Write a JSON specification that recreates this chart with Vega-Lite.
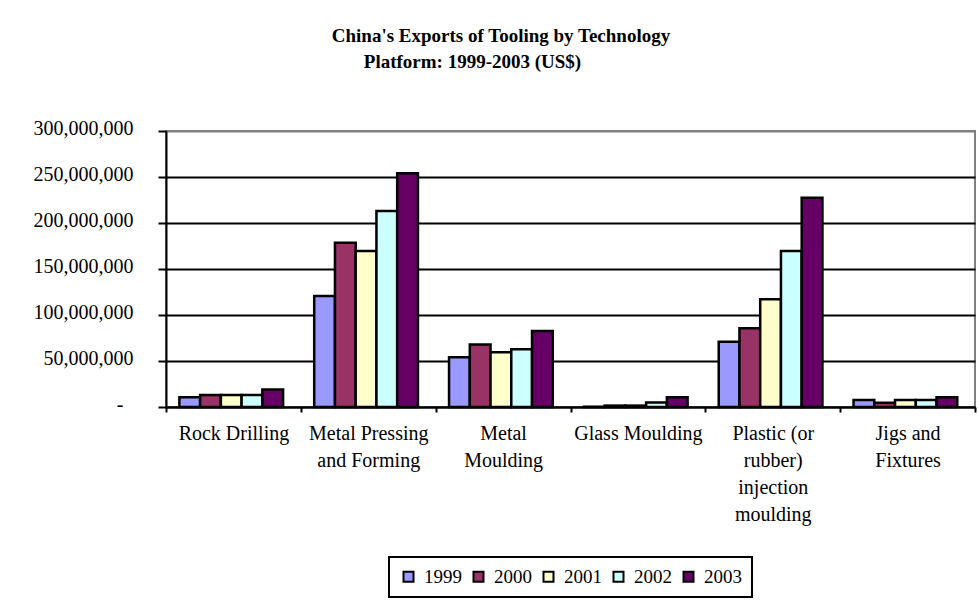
{
  "$schema": "https://vega.github.io/schema/vega-lite/v6.json",
  "autosize": "none",
  "width": 809,
  "height": 276,
  "padding": {"left": 166, "top": 131, "right": 3, "bottom": 193},
  "background": "white",
  "title": {
    "text": ["China's Exports of Tooling by Technology", "Platform: 1999-2003 (US$)\u00a0\u00a0\u00a0\u00a0\u00a0\u00a0\u00a0\u00a0\u00a0\u00a0\u00a0\u00a0\u200b"],
    "font": "Liberation Serif",
    "fontSize": 19,
    "fontWeight": "bold",
    "lineHeight": 26,
    "anchor": "middle",
    "dx": -69.5,
    "offset": 46,
    "color": "black"
  },
  "config": {
    "view": {"stroke": "#808080", "strokeWidth": 2},
    "font": "Liberation Serif"
  },
  "data": {
    "values": [
      {"category": "Rock Drilling", "year": "1999", "value": 10500000},
      {"category": "Rock Drilling", "year": "2000", "value": 13000000},
      {"category": "Rock Drilling", "year": "2001", "value": 13000000},
      {"category": "Rock Drilling", "year": "2002", "value": 13000000},
      {"category": "Rock Drilling", "year": "2003", "value": 19000000},
      {"category": "Metal Pressing and Forming", "year": "1999", "value": 120600000},
      {"category": "Metal Pressing and Forming", "year": "2000", "value": 178600000},
      {"category": "Metal Pressing and Forming", "year": "2001", "value": 169600000},
      {"category": "Metal Pressing and Forming", "year": "2002", "value": 213000000},
      {"category": "Metal Pressing and Forming", "year": "2003", "value": 254000000},
      {"category": "Metal Moulding", "year": "1999", "value": 54000000},
      {"category": "Metal Moulding", "year": "2000", "value": 68000000},
      {"category": "Metal Moulding", "year": "2001", "value": 59400000},
      {"category": "Metal Moulding", "year": "2002", "value": 62700000},
      {"category": "Metal Moulding", "year": "2003", "value": 82600000},
      {"category": "Glass Moulding", "year": "1999", "value": 300000},
      {"category": "Glass Moulding", "year": "2000", "value": 1500000},
      {"category": "Glass Moulding", "year": "2001", "value": 1500000},
      {"category": "Glass Moulding", "year": "2002", "value": 5000000},
      {"category": "Glass Moulding", "year": "2003", "value": 10500000},
      {"category": "Plastic (or rubber) injection moulding", "year": "1999", "value": 71000000},
      {"category": "Plastic (or rubber) injection moulding", "year": "2000", "value": 85500000},
      {"category": "Plastic (or rubber) injection moulding", "year": "2001", "value": 117000000},
      {"category": "Plastic (or rubber) injection moulding", "year": "2002", "value": 169600000},
      {"category": "Plastic (or rubber) injection moulding", "year": "2003", "value": 227500000},
      {"category": "Jigs and Fixtures", "year": "1999", "value": 7600000},
      {"category": "Jigs and Fixtures", "year": "2000", "value": 4700000},
      {"category": "Jigs and Fixtures", "year": "2001", "value": 7600000},
      {"category": "Jigs and Fixtures", "year": "2002", "value": 7600000},
      {"category": "Jigs and Fixtures", "year": "2003", "value": 10500000}
    ]
  },
  "mark": {"type": "bar", "stroke": "black", "strokeWidth": 2.5},
  "encoding": {
    "x": {
      "field": "category",
      "type": "nominal",
      "sort": null,
      "scale": {"paddingInner": 0, "paddingOuter": 0},
      "axis": {
        "title": null,
        "labelAngle": 0,
        "tickBand": "extent",
        "domainColor": "black",
        "domainWidth": 2,
        "tickColor": "black",
        "tickWidth": 2,
        "tickSize": 5,
        "labelFont": "Liberation Serif",
        "labelFontSize": 20,
        "labelColor": "black",
        "labelLineHeight": 27,
        "labelPadding": 11,
        "labelBaseline": "top",
        "labelExpr": "datum.label == 'Metal Pressing and Forming' ? ['Metal Pressing', 'and Forming'] : datum.label == 'Metal Moulding' ? ['Metal', 'Moulding'] : datum.label == 'Plastic (or rubber) injection moulding' ? ['Plastic (or', 'rubber)', 'injection', 'moulding'] : datum.label == 'Jigs and Fixtures' ? ['Jigs and', 'Fixtures'] : datum.label"
      }
    },
    "xOffset": {
      "field": "year",
      "type": "nominal",
      "scale": {"paddingInner": 0, "paddingOuter": 0.75, "align": 0.43}
    },
    "y": {
      "field": "value",
      "type": "quantitative",
      "scale": {"domain": [0, 300000000], "nice": false},
      "axis": {
        "title": null,
        "values": [0, 50000000, 100000000, 150000000, 200000000, 250000000, 300000000],
        "labelExpr": "datum.value == 0 ? '-\u00a0\u00a0\u200b' : format(datum.value, ',')",
        "grid": true,
        "gridColor": {"condition": {"test": "datum.value == 300000000", "value": "#808080"}, "value": "black"},
        "gridWidth": 2,
        "domainColor": "black",
        "domainWidth": 2,
        "tickColor": "black",
        "tickWidth": 2,
        "tickSize": 8,
        "labelPadding": 25,
        "labelFont": "Liberation Serif",
        "labelFontSize": 20,
        "labelColor": "black",
        "labelOffset": -3
      }
    },
    "color": {
      "field": "year",
      "type": "nominal",
      "scale": {
        "domain": ["1999", "2000", "2001", "2002", "2003"],
        "range": ["#9999FF", "#993366", "#FFFFCC", "#CCFFFF", "#660066"]
      },
      "legend": {
        "orient": "none",
        "legendX": 223,
        "legendY": 426,
        "direction": "horizontal",
        "title": null,
        "symbolType": "square",
        "symbolSize": 100,
        "symbolStrokeColor": "black",
        "symbolStrokeWidth": 2,
        "symbolOpacity": 1,
        "labelFont": "Liberation Serif",
        "labelFontSize": 19,
        "labelColor": "black",
        "labelOffset": 6,
        "columnPadding": 7,
        "padding": 10,
        "strokeColor": "black",
        "fillColor": "white",
        "encode": {"legend": {"update": {"strokeWidth": {"value": 2}}}}
      }
    }
  }
}
